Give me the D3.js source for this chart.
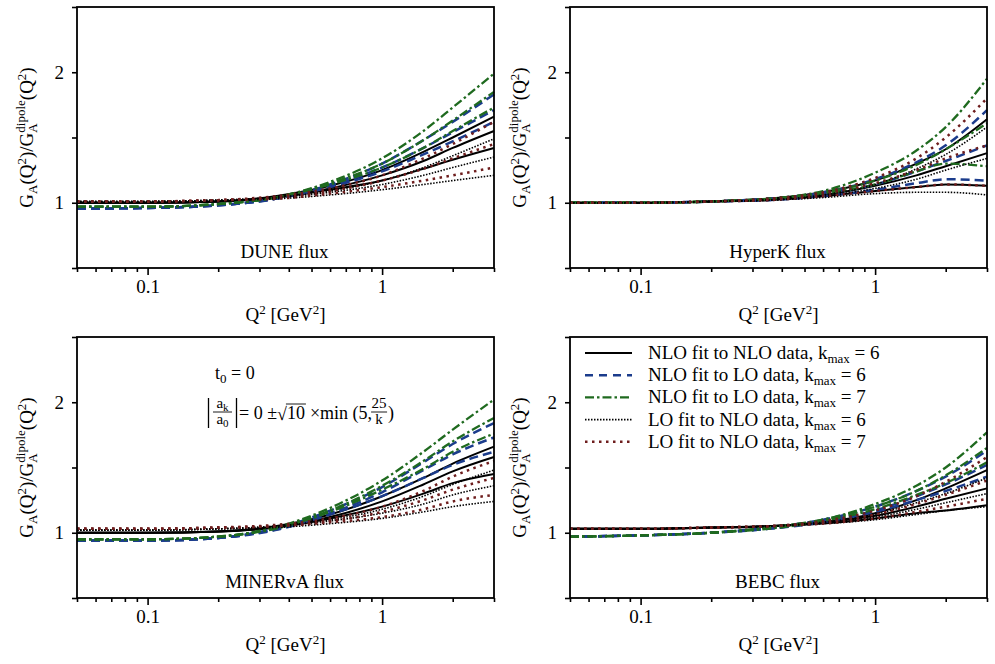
<!DOCTYPE html>
<html lang="en">
<head>
<meta charset="UTF-8">
<script src="https://d3js.org/d3.v7.min.js"></script>
<title>Axial form factor ratio</title>
<style>
  body { margin: 0; background: #fff; }
  text { font-family: "Liberation Serif", "Times New Roman", serif; fill: #000; }
</style>
</head>
<body>
<div id="chart"></div>
<script>
// ---- Data ----
const q2 = [0.05, 0.1, 0.2, 0.35, 0.6, 1, 1.5, 2, 3];

const fluxNames = ["DUNE flux", "HyperK flux", "MINERvA flux", "BEBC flux"];
const legendLabels = ["NLO fit to NLO data", "NLO fit to LO data", "NLO fit to LO data", "LO fit to NLO data", "LO fit to NLO data"];
const kMax = ["6", "6", "7", "6", "7"];

const yTicks = [0.5, 1, 1.5, 2, 2.5];
const yTickLabels = ["", "1", "", "2", ""];
const xMajorTicks = [0.1, 1];
const xMajorLabels = ["0.1", "1"];
const xMinorTicks = [0.05, 0.06, 0.07, 0.08, 0.09, 0.2, 0.3, 0.4, 0.5, 0.6, 0.7, 0.8, 0.9, 2, 3];

// each array: upper, central, lower curve
const duneNloNlo6 = [
  [1.00, 1.00, 1.01, 1.05, 1.13, 1.25, 1.39, 1.50, 1.66],
  [1.00, 1.00, 1.01, 1.04, 1.11, 1.21, 1.32, 1.42, 1.55],
  [1.00, 1.00, 1.01, 1.04, 1.10, 1.17, 1.26, 1.33, 1.42]];
const duneNloLo6 = [
  [0.955, 0.96, 0.98, 1.03, 1.14, 1.30, 1.48, 1.62, 1.83],
  [0.955, 0.96, 0.98, 1.03, 1.13, 1.27, 1.42, 1.54, 1.71],
  [0.955, 0.96, 0.98, 1.03, 1.12, 1.24, 1.37, 1.47, 1.62]];
const duneNloLo7 = [
  [0.97, 0.97, 0.99, 1.04, 1.16, 1.34, 1.55, 1.73, 1.99],
  [0.97, 0.97, 0.99, 1.04, 1.15, 1.30, 1.48, 1.63, 1.85],
  [0.97, 0.97, 0.99, 1.04, 1.14, 1.27, 1.42, 1.55, 1.73]];
const duneLoNlo6 = [
  [1.01, 1.01, 1.02, 1.04, 1.09, 1.17, 1.27, 1.36, 1.49],
  [1.01, 1.01, 1.02, 1.04, 1.08, 1.14, 1.21, 1.27, 1.35],
  [1.01, 1.01, 1.02, 1.03, 1.06, 1.10, 1.14, 1.17, 1.21]];
const duneLoNlo7 = [
  [1.01, 1.01, 1.02, 1.05, 1.11, 1.21, 1.34, 1.45, 1.62],
  [1.01, 1.01, 1.02, 1.04, 1.09, 1.17, 1.26, 1.34, 1.45],
  [1.01, 1.01, 1.02, 1.03, 1.07, 1.12, 1.17, 1.21, 1.27]];

const hyperkNloNlo6 = [
  [1.00, 1.00, 1.01, 1.03, 1.08, 1.17, 1.30, 1.41, 1.64],
  [1.00, 1.00, 1.01, 1.03, 1.06, 1.13, 1.21, 1.28, 1.38],
  [1.00, 1.00, 1.01, 1.02, 1.05, 1.09, 1.12, 1.14, 1.13]];
const hyperkNloLo6 = [
  [1.00, 1.00, 1.01, 1.03, 1.08, 1.18, 1.31, 1.44, 1.71],
  [1.00, 1.00, 1.01, 1.03, 1.07, 1.14, 1.24, 1.32, 1.44],
  [1.00, 1.00, 1.01, 1.02, 1.05, 1.10, 1.15, 1.18, 1.17]];
const hyperkNloLo7 = [
  [1.00, 1.00, 1.01, 1.03, 1.09, 1.23, 1.40, 1.58, 1.95],
  [1.00, 1.00, 1.01, 1.03, 1.08, 1.17, 1.29, 1.41, 1.61],
  [1.00, 1.00, 1.01, 1.03, 1.07, 1.14, 1.24, 1.30, 1.28]];
const hyperkLoNlo6 = [
  [1.00, 1.00, 1.01, 1.02, 1.06, 1.14, 1.26, 1.37, 1.58],
  [1.00, 1.00, 1.01, 1.02, 1.05, 1.11, 1.18, 1.25, 1.34],
  [1.00, 1.00, 1.01, 1.02, 1.04, 1.07, 1.08, 1.08, 1.06]];
const hyperkLoNlo7 = [
  [1.00, 1.00, 1.01, 1.03, 1.08, 1.19, 1.34, 1.50, 1.80],
  [1.00, 1.00, 1.01, 1.03, 1.07, 1.15, 1.25, 1.34, 1.44],
  [1.00, 1.00, 1.01, 1.02, 1.05, 1.09, 1.12, 1.14, 1.13]];

const minervaNloNlo6 = [
  [1.00, 1.00, 1.01, 1.05, 1.14, 1.28, 1.42, 1.53, 1.66],
  [1.00, 1.00, 1.01, 1.04, 1.12, 1.24, 1.37, 1.47, 1.58],
  [1.00, 1.00, 1.01, 1.04, 1.11, 1.20, 1.30, 1.38, 1.45]];
const minervaNloLo6 = [
  [0.94, 0.94, 0.96, 1.03, 1.17, 1.35, 1.54, 1.68, 1.84],
  [0.94, 0.94, 0.96, 1.03, 1.15, 1.31, 1.48, 1.60, 1.73],
  [0.94, 0.94, 0.96, 1.02, 1.14, 1.28, 1.42, 1.52, 1.62]];
const minervaNloLo7 = [
  [0.95, 0.95, 0.97, 1.04, 1.19, 1.40, 1.62, 1.79, 2.02],
  [0.95, 0.95, 0.97, 1.04, 1.17, 1.36, 1.55, 1.70, 1.88],
  [0.95, 0.95, 0.97, 1.03, 1.16, 1.33, 1.49, 1.62, 1.76]];
const minervaLoNlo6 = [
  [1.02, 1.02, 1.03, 1.05, 1.10, 1.18, 1.28, 1.37, 1.48],
  [1.02, 1.02, 1.03, 1.05, 1.09, 1.15, 1.22, 1.29, 1.36],
  [1.02, 1.02, 1.03, 1.04, 1.07, 1.11, 1.16, 1.20, 1.24]];
const minervaLoNlo7 = [
  [1.03, 1.03, 1.04, 1.06, 1.11, 1.20, 1.32, 1.43, 1.55],
  [1.03, 1.03, 1.04, 1.05, 1.09, 1.16, 1.25, 1.33, 1.42],
  [1.03, 1.03, 1.04, 1.05, 1.08, 1.12, 1.18, 1.24, 1.29]];

const bebcNloNlo6 = [
  [1.03, 1.03, 1.04, 1.05, 1.08, 1.15, 1.25, 1.34, 1.48],
  [1.03, 1.03, 1.04, 1.05, 1.08, 1.13, 1.20, 1.26, 1.34],
  [1.03, 1.03, 1.04, 1.05, 1.07, 1.11, 1.15, 1.17, 1.21]];
const bebcNloLo6 = [
  [0.97, 0.98, 1.00, 1.04, 1.10, 1.20, 1.32, 1.43, 1.63],
  [0.97, 0.98, 1.00, 1.03, 1.09, 1.17, 1.28, 1.37, 1.52],
  [0.97, 0.98, 1.00, 1.03, 1.08, 1.16, 1.25, 1.32, 1.43]];
const bebcNloLo7 = [
  [0.97, 0.98, 1.00, 1.04, 1.10, 1.22, 1.36, 1.50, 1.77],
  [0.97, 0.98, 1.00, 1.04, 1.10, 1.20, 1.32, 1.44, 1.65],
  [0.97, 0.98, 1.00, 1.03, 1.09, 1.18, 1.29, 1.38, 1.54]];
const bebcLoNlo6 = [
  [1.03, 1.03, 1.04, 1.05, 1.08, 1.14, 1.23, 1.30, 1.42],
  [1.03, 1.03, 1.04, 1.05, 1.08, 1.12, 1.18, 1.23, 1.30],
  [1.03, 1.03, 1.04, 1.05, 1.07, 1.10, 1.14, 1.17, 1.20]];
const bebcLoNlo7 = [
  [1.03, 1.03, 1.04, 1.05, 1.09, 1.17, 1.28, 1.39, 1.58],
  [1.03, 1.03, 1.04, 1.05, 1.08, 1.14, 1.22, 1.29, 1.40],
  [1.03, 1.03, 1.04, 1.05, 1.07, 1.11, 1.16, 1.20, 1.26]];

const panelCurves = [
  [duneNloNlo6, duneNloLo6, duneNloLo7, duneLoNlo6, duneLoNlo7],
  [hyperkNloNlo6, hyperkNloLo6, hyperkNloLo7, hyperkLoNlo6, hyperkLoNlo7],
  [minervaNloNlo6, minervaNloLo6, minervaNloLo7, minervaLoNlo6, minervaLoNlo7],
  [bebcNloNlo6, bebcNloLo6, bebcNloLo7, bebcLoNlo6, bebcLoNlo7]
];

// ---- Styles ----
const styles = [
  { color: "#000000", width: 2.0, dash: null, legendDash: null },
  { color: "#1b3c8c", width: 2.5, dash: "9,5", legendDash: "8,6" },
  { color: "#1f6a1f", width: 2.3, dash: "9,3,2.5,3", legendDash: "9,3,2.5,3" },
  { color: "#000000", width: 1.6, dash: "1.5,1.5", legendDash: "1.5,1.5" },
  { color: "#6e1d1d", width: 2.5, dash: "2.5,4.5", legendDash: "2.5,4.5" }
];

const width = 995, height = 664;
const pw = 417, ph = 261;
const layout = [
  { left: 77, top: 7 },
  { left: 570, top: 7 },
  { left: 77, top: 337 },
  { left: 570, top: 337 }
];

const svg = d3.select("#chart").append("svg")
  .attr("width", width)
  .attr("height", height);

svg.append("rect").attr("width", width).attr("height", height).attr("fill", "#fff");

layout.forEach((p, i) => {
  const x = d3.scaleLog().domain([0.05, 3]).range([p.left, p.left + pw]);
  const y = d3.scaleLinear().domain([0.5, 2.5]).range([p.top + ph, p.top]);
  const g = svg.append("g");

  const line = d3.line()
    .x(d => x(d[0]))
    .y(d => y(d[1]))
    .curve(d3.curveMonotoneX);

  // Curves
  panelCurves[i].forEach((band, s) => {
    band.forEach(vals => {
      g.append("path")
        .datum(q2.map((q, k) => [q, vals[k]]))
        .attr("d", line)
        .attr("fill", "none")
        .attr("stroke", styles[s].color)
        .attr("stroke-width", styles[s].width)
        .attr("stroke-dasharray", styles[s].dash);
    });
  });

  // Frame
  g.append("rect")
    .attr("x", p.left).attr("y", p.top)
    .attr("width", pw).attr("height", ph)
    .attr("fill", "none").attr("stroke", "#000").attr("stroke-width", 1.8);

  // Axes
  const yAxis = g.append("g")
    .attr("transform", `translate(${p.left},0)`)
    .call(d3.axisLeft(y).tickValues(yTicks).tickSize(5).tickSizeOuter(0).tickPadding(8)
      .tickFormat((d, k) => yTickLabels[k]));
  const xMinor = g.append("g")
    .attr("transform", `translate(0,${p.top + ph})`)
    .call(d3.axisBottom(x).tickValues(xMinorTicks).tickSize(4).tickSizeOuter(0).tickFormat(""));
  const xMajor = g.append("g")
    .attr("transform", `translate(0,${p.top + ph})`)
    .call(d3.axisBottom(x).tickValues(xMajorTicks).tickSize(7).tickSizeOuter(0).tickPadding(5)
      .tickFormat((d, k) => xMajorLabels[k]));
  [yAxis, xMinor, xMajor].forEach(a => {
    a.select(".domain").remove();
    a.selectAll("line").attr("stroke-width", 1.6);
    a.selectAll("text").attr("font-size", 19).attr("font-family", "Liberation Serif, serif");
  });

  // Flux label
  g.append("text")
    .attr("x", p.left + pw / 2 - 1)
    .attr("y", p.top + 251)
    .attr("text-anchor", "middle")
    .attr("font-size", 19)
    .text(fluxNames[i]);

  // X label
  const xl = g.append("text")
    .attr("x", p.left + pw / 2)
    .attr("y", p.top + 314)
    .attr("text-anchor", "middle")
    .attr("font-size", 19);
  xl.append("tspan").text("Q");
  xl.append("tspan").attr("dy", -7).attr("font-size", 13).text("2");
  xl.append("tspan").attr("dy", 7).text(" [GeV");
  xl.append("tspan").attr("dy", -7).attr("font-size", 13).text("2");
  xl.append("tspan").attr("dy", 7).text("]");

  // Y label
  const yl = g.append("text")
    .attr("transform", `translate(${p.left - 44},${p.top + ph / 2}) rotate(-90)`)
    .attr("text-anchor", "middle")
    .attr("font-size", 19);
  yl.append("tspan").text("G");
  yl.append("tspan").attr("dy", 4).attr("font-size", 13).text("A");
  yl.append("tspan").attr("dy", -4).text("(Q");
  yl.append("tspan").attr("dy", -7).attr("font-size", 13).text("2");
  yl.append("tspan").attr("dy", 7).text(")/G");
  const subA = yl.append("tspan").attr("dy", 4).attr("font-size", 13).text("A");
  const sup = yl.append("tspan").attr("dy", -12).attr("font-size", 13).text("dipole");
  sup.attr("dx", -subA.node().getComputedTextLength());
  yl.append("tspan").attr("dy", 8).text("(Q");
  yl.append("tspan").attr("dy", -7).attr("font-size", 13).text("2");
  yl.append("tspan").attr("dy", 7).text(")");
});

// ---- Legend (bottom-right panel) ----
const lg = svg.append("g");
styles.forEach((s, k) => {
  const cy = 353 + k * 22.2;
  lg.append("line")
    .attr("x1", 585).attr("x2", 632)
    .attr("y1", cy).attr("y2", cy)
    .attr("stroke", s.color)
    .attr("stroke-width", s.width)
    .attr("stroke-dasharray", s.legendDash);
  const t = lg.append("text")
    .attr("x", 648).attr("y", cy + 6)
    .attr("font-size", 19);
  t.append("tspan").text(legendLabels[k] + ", k");
  t.append("tspan").attr("dy", 4).attr("font-size", 13).text("max");
  t.append("tspan").attr("dy", -4).text(" = " + kMax[k]);
});

// ---- Annotation (MINERvA panel) ----
const an = svg.append("g");
const t0 = an.append("text").attr("x", 215).attr("y", 379).attr("font-size", 18);
t0.append("tspan").text("t");
t0.append("tspan").attr("dy", 4).attr("font-size", 13).text("0");
t0.append("tspan").attr("dy", -4).text(" = 0");

// |a_k / a_0|
const top2 = -3;
[208.5, 236.5].forEach(bx => {
  an.append("line").attr("x1", bx).attr("x2", bx).attr("y1", 401 + top2).attr("y2", 431 + top2)
    .attr("stroke", "#000").attr("stroke-width", 1.3);
});
const num = an.append("text").attr("x", 222.5).attr("y", 411 + top2).attr("text-anchor", "middle").attr("font-size", 15);
num.append("tspan").text("a");
num.append("tspan").attr("dy", 3).attr("font-size", 11).text("k");
an.append("line").attr("x1", 213).attr("x2", 232).attr("y1", 415 + top2).attr("y2", 415 + top2)
  .attr("stroke", "#000").attr("stroke-width", 0.9);
const den = an.append("text").attr("x", 222.5).attr("y", 427 + top2).attr("text-anchor", "middle").attr("font-size", 15);
den.append("tspan").text("a");
den.append("tspan").attr("dy", 3).attr("font-size", 11).text("0");

let cx = 239;
const base = 422 + top2;
function put(str, size, yb) {
  const t = an.append("text").attr("x", cx).attr("y", yb).attr("font-size", size).text(str);
  const w = t.node().getComputedTextLength();
  const x0 = cx;
  cx += w;
  return { x0, w };
}
put("= 0 ±", 18, base);
put("\u221A", 18, base + 1);
const ten = put("10", 18, base);
an.append("line").attr("x1", ten.x0 - 1).attr("x2", ten.x0 + ten.w + 1)
  .attr("y1", base - 15).attr("y2", base - 15)
  .attr("stroke", "#000").attr("stroke-width", 0.9);
cx += 5;
put("\u00D7min (5,", 18, base);
const fx = cx + 7;
an.append("text").attr("x", fx).attr("y", 411 + top2).attr("text-anchor", "middle").attr("font-size", 15).text("25");
an.append("line").attr("x1", fx - 8).attr("x2", fx + 8).attr("y1", 415 + top2).attr("y2", 415 + top2)
  .attr("stroke", "#000").attr("stroke-width", 0.9);
an.append("text").attr("x", fx).attr("y", 427 + top2).attr("text-anchor", "middle").attr("font-size", 15).text("k");
cx = fx + 9;
put(")", 18, base);
</script>
</body>
</html>
